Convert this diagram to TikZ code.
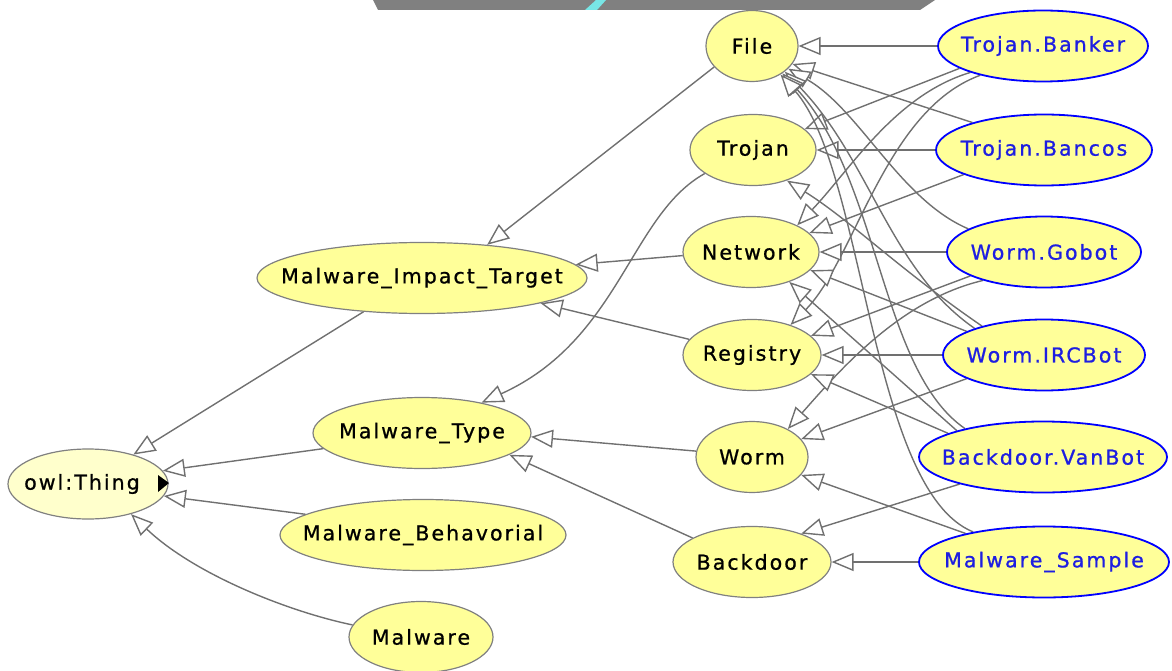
\documentclass[tikz,border=0pt]{standalone}
\usepackage{fontspec}
\setmainfont{DejaVu Sans}[LetterSpace=10,FakeBold=0.9]
\usetikzlibrary{shapes.geometric,arrows.meta,calc}
\definecolor{nodeyellow}{RGB}{255,255,153}
\definecolor{thingyellow}{RGB}{255,255,204}
\definecolor{edgegray}{RGB}{112,112,112}
\definecolor{bordergray}{RGB}{128,128,128}
\definecolor{instblue}{RGB}{0,0,255}
\definecolor{textblue}{RGB}{30,30,225}
\definecolor{bargray}{RGB}{128,128,128}
\definecolor{barcyan}{RGB}{120,230,230}
\newcommand{\lbl}[1]{\makebox[0pt][c]{#1}}
\pgfdeclarelayer{bg}
\pgfsetlayers{bg,main}
\begin{document}
\begin{tikzpicture}[x=1pt,y=-1pt,
  cls/.style={ellipse, draw=bordergray, line width=1.2pt, fill=nodeyellow, inner sep=0pt,
    minimum height=71pt, font=\fontsize{20.5}{24}\selectfont},
  inst/.style={cls, draw=instblue, line width=1.8pt, text=textblue},
  isa/.style={draw=edgegray, line width=1.4pt, -{Triangle[length=22pt,width=18pt,fill=white]}}]
\useasboundingbox (0,0) rectangle (1172,671);
% top overlay bar
\fill[bargray] (373,0) -- (935,0) -- (920,10) -- (378,10) -- cycle;
\fill[barcyan] (585,10) -- (597,10) -- (606,0) -- (596,0) -- cycle;
% class nodes
\node[cls, fill=thingyellow, minimum width=160pt, minimum height=70pt] (thing) at (88,484) {\lbl{owl:Thing\hspace{12pt}}};
\node[cls, minimum width=330pt] (mit) at (422,278) {\lbl{Malware\_Impact\_Target}};
\node[cls, minimum width=218pt] (mt) at (422,433) {\lbl{Malware\_Type}};
\node[cls, minimum width=286pt] (mb) at (423,535) {\lbl{Malware\_Behavorial}};
\node[cls, minimum width=144pt] (mal) at (421,637) {\lbl{Malware}};
\node[cls, minimum width=92pt] (file) at (752,46) {\lbl{File}};
\node[cls, minimum width=126pt] (troj) at (753,150) {\lbl{Trojan}};
\node[cls, minimum width=136pt] (net) at (751,252) {\lbl{Network}};
\node[cls, minimum width=138pt] (reg) at (752,355) {\lbl{Registry}};
\node[cls, minimum width=112pt] (worm) at (752,457) {\lbl{Worm}};
\node[cls, minimum width=158pt] (back) at (752,562) {\lbl{Backdoor}};
% blue nodes
\node[inst, minimum width=210pt] (tbk) at (1043,46) {\lbl{Trojan.Banker}};
\node[inst, minimum width=216pt] (tbc) at (1044,150) {\lbl{Trojan.Bancos}};
\node[inst, minimum width=194pt] (gob) at (1044,252) {\lbl{Worm.Gobot}};
\node[inst, minimum width=202pt] (irc) at (1044,355) {\lbl{Worm.IRCBot}};
\node[inst, minimum width=248pt] (van) at (1043,457) {\lbl{Backdoor.VanBot}};
\node[inst, minimum width=250pt] (smp) at (1044,562) {\lbl{Malware\_Sample}};
% expand marker
\fill[black] (158,475) -- (169,483) -- (158,492) -- cycle;
\begin{pgfonlayer}{bg}
% left part
\draw[isa] (mit.210) -- (thing.33);
\draw[isa] (mt.189) -- (thing.10);
\draw[isa] (mb.170) -- (thing.351);
\draw[isa] (mal.170) .. controls (290,612) and (195,575) .. (thing.325);
\draw[isa] (file.209) -- (mit.27);
\draw[isa] (net.183) -- (mit.5);
\draw[isa] (reg.166) -- (mit.348);
\draw[isa] (troj.206) .. controls (630,215) and (620,340) .. (mt.27);
\draw[isa] (worm.174) -- (mt.358);
\draw[isa] (back.158) -- (mt.346);
% right part
\draw[isa] (tbk) -- (file);
\draw[isa] (tbk.195) -- (troj.22);
\draw[isa] (tbk.200) .. controls (895,95) and (850,170) .. (net.30);
\draw[isa] (tbk.205) .. controls (885,110) and (855,260) .. (reg.38);
\draw[isa] (tbc) -- (troj);
\draw[isa] (tbc.159) -- (file.336);
\draw[isa] (tbc.197) -- (net.18);
\draw[isa] (gob) -- (net);
\draw[isa] (gob.163) .. controls (900,200) and (860,110) .. (file.328);
\draw[isa] (gob.198) -- (reg.18);
\draw[isa] (gob.205) .. controls (900,300) and (840,370) .. (worm.38);
\draw[isa] (irc) -- (reg);
\draw[isa] (irc.159) .. controls (890,270) and (870,160) .. (file.322);
\draw[isa] (irc.163) -- (net.343);
\draw[isa] (irc.155) .. controls (900,270) and (850,220) .. (troj.318);
\draw[isa] (irc.197) -- (worm.20);
\draw[isa] (van.198) -- (back.30);
\draw[isa] (van.166) -- (reg.342);
\draw[isa] (van.163) -- (net.322);
\draw[isa] (van.160) .. controls (880,370) and (880,180) .. (file.318);
\draw[isa] (smp) -- (back);
\draw[isa] (smp.160) -- (worm.340);
\draw[isa] (smp.157) .. controls (870,490) and (865,170) .. (file.315);
\end{pgfonlayer}
\end{tikzpicture}
\end{document}
